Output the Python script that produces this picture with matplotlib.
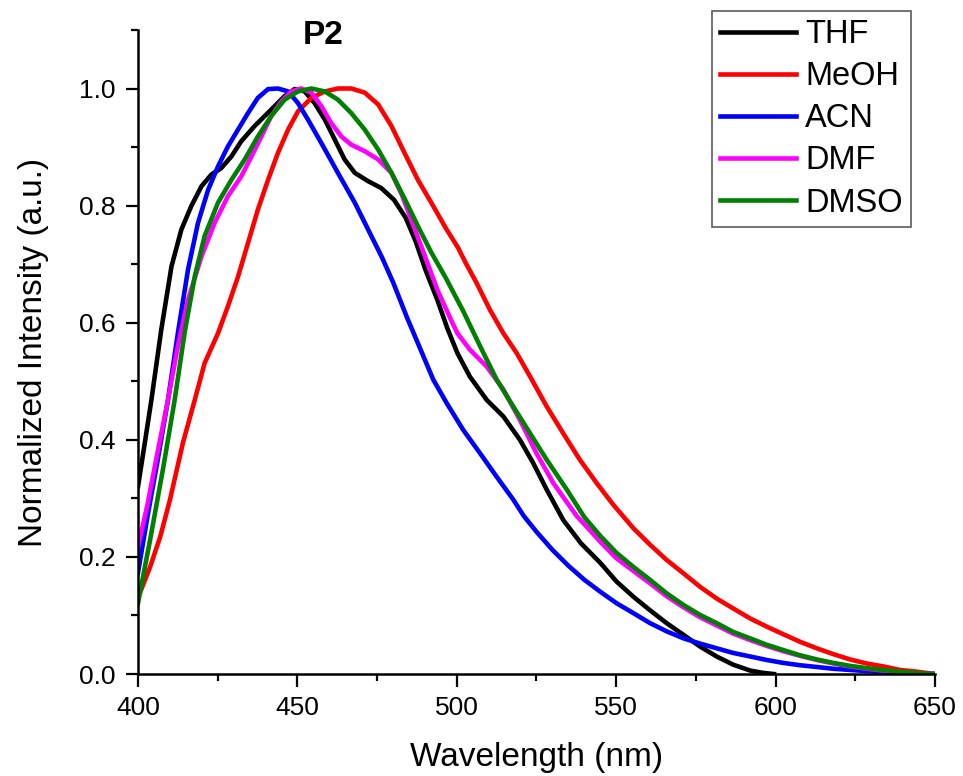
import numpy as np
import matplotlib.pyplot as plt

plt.rcParams['font.family'] = ['Liberation Sans', 'DejaVu Sans']

# emission spectra (wavelength nm, normalized intensity)
thf_x = [400, 402, 404.2, 407.3, 410.5, 413.6, 416.7, 419.9, 423, 426.1, 429.3, 432.4, 436.6,
         441.8, 446, 449.1, 452.3, 455.4, 458.6, 461.7, 464.8, 468, 472.1, 476.3, 480.3, 484,
         487.1, 490.2, 493.9, 497, 500.2, 504.1, 509.4, 514.6, 519.8, 524, 528.2, 533.4, 539,
         545, 550.1, 555.4, 560.6, 565.8, 571.1, 576.3, 581.5, 586.7, 592, 596, 599.5]
thf_y = [0.32, 0.39, 0.468, 0.588, 0.696, 0.759, 0.799, 0.833, 0.853, 0.864, 0.884, 0.91, 0.936,
         0.964, 0.987, 0.999, 0.995, 0.975, 0.947, 0.913, 0.879, 0.856, 0.842, 0.83, 0.81, 0.779,
         0.739, 0.69, 0.639, 0.591, 0.548, 0.508, 0.468, 0.44, 0.4, 0.36, 0.315, 0.263, 0.223,
         0.19, 0.158, 0.132, 0.109, 0.087, 0.067, 0.047, 0.03, 0.016, 0.006, 0.002, 0.0]

meoh_x = [400, 403.8, 407, 410, 414.1, 417.8, 420.9, 425.1, 428.2, 431.4, 434.5, 437.6, 440.8,
          443.9, 447.1, 450.2, 454.4, 458.6, 462.7, 466.9, 471.1, 475.3, 479.5, 483.6, 487.8,
          492, 496.5, 500.4, 503, 506.2, 510.4, 514.6, 518.8, 523, 528.2, 533.4, 538.6, 543.9,
          549.1, 555.4, 560.6, 565.8, 571.1, 576.3, 581.5, 586.7, 592, 597.2, 602.4, 607.7,
          612.9, 618.1, 623.3, 628.6, 633.8, 639, 644.3, 650]
meoh_y = [0.13, 0.183, 0.235, 0.297, 0.395, 0.468, 0.531, 0.582, 0.628, 0.679, 0.736, 0.793,
          0.844, 0.89, 0.93, 0.961, 0.984, 0.995, 1.0, 1.0, 0.993, 0.973, 0.936, 0.89, 0.844,
          0.805, 0.762, 0.728, 0.7, 0.668, 0.622, 0.582, 0.548, 0.508, 0.457, 0.411, 0.366,
          0.326, 0.289, 0.249, 0.221, 0.195, 0.172, 0.149, 0.129, 0.112, 0.095, 0.081, 0.068,
          0.055, 0.044, 0.034, 0.025, 0.018, 0.013, 0.007, 0.004, 0.0]

acn_x = [400, 403, 406, 409.4, 412.5, 415.7, 418.8, 422, 425.1, 428.2, 431.4, 434.5, 437.6,
         440.8, 443.9, 447.1, 450.2, 453.3, 457.5, 462.7, 468, 473.2, 476.5, 480.1, 484.3,
         488.5, 492.6, 496.8, 502, 507.3, 512.5, 517.7, 521, 525, 530, 535, 540, 544.9, 550.1,
         555.4, 560.6, 565.8, 571.1, 576.3, 581.5, 586.7, 592, 597.2, 602.4, 607.7, 613, 618.1,
         623.3, 628.6, 633.8, 639, 644, 650]
acn_y = [0.173, 0.27, 0.36, 0.468, 0.582, 0.691, 0.77, 0.827, 0.867, 0.901, 0.93, 0.958, 0.984,
         0.999, 1.0, 0.995, 0.975, 0.947, 0.907, 0.856, 0.805, 0.748, 0.712, 0.668, 0.61, 0.556,
         0.503, 0.463, 0.417, 0.377, 0.337, 0.298, 0.27, 0.243, 0.212, 0.185, 0.161, 0.141,
         0.121, 0.104, 0.087, 0.073, 0.061, 0.052, 0.044, 0.036, 0.03, 0.024, 0.019, 0.015,
         0.012, 0.009, 0.007, 0.005, 0.0035, 0.002, 0.001, 0.0]

dmf_x = [400, 403, 406, 409.4, 412.5, 415.7, 419.9, 424, 428.2, 432.4, 435.6, 438.7, 441.8,
         445, 448.1, 451.2, 454.4, 457.5, 460.6, 463.8, 466.9, 471.1, 475.3, 479.5, 482.8, 486,
         489.9, 494, 498, 500.2, 504.1, 509.4, 514.6, 519.8, 525, 530.3, 537.6, 541, 545, 550,
         555.4, 560.6, 565.8, 571.1, 576.3, 581.5, 586.7, 592, 597.2, 602.4, 607.7, 612.9,
         618.1, 623.3, 628.6, 633.8, 639, 644, 650]
dmf_y = [0.217, 0.29, 0.375, 0.468, 0.56, 0.639, 0.713, 0.77, 0.816, 0.85, 0.884, 0.918, 0.953,
         0.978, 0.995, 1.0, 0.993, 0.97, 0.941, 0.918, 0.904, 0.893, 0.879, 0.856, 0.818, 0.772,
         0.715, 0.655, 0.607, 0.582, 0.554, 0.525, 0.486, 0.434, 0.377, 0.326, 0.27, 0.25,
         0.226, 0.198, 0.176, 0.155, 0.133, 0.114, 0.097, 0.083, 0.069, 0.058, 0.048, 0.039,
         0.031, 0.024, 0.018, 0.013, 0.009, 0.006, 0.0035, 0.0015, 0.0]

dmso_x = [400, 404, 408, 411.5, 414.6, 417.8, 420.9, 425.1, 429.3, 433.5, 437.6, 441.8, 446,
          450.2, 454.4, 458.6, 462.7, 466.9, 471.1, 475.3, 479.5, 483.8, 487.8, 492, 496.5, 502,
          507.3, 512.5, 517.7, 523, 528.2, 534.5, 540, 545, 550.1, 555.4, 560.6, 565.8, 571.1,
          576.3, 581.5, 586.7, 592, 597.2, 602.4, 607.7, 612.9, 618.1, 623.3, 628.6, 633.8, 639,
          644, 650]
dmso_y = [0.121, 0.235, 0.355, 0.468, 0.582, 0.679, 0.748, 0.805, 0.844, 0.879, 0.918, 0.953,
          0.981, 0.995, 1.0, 0.995, 0.981, 0.958, 0.93, 0.896, 0.856, 0.81, 0.765, 0.72, 0.677,
          0.62, 0.56, 0.503, 0.457, 0.411, 0.366, 0.315, 0.268, 0.236, 0.207, 0.183, 0.161,
          0.138, 0.118, 0.101, 0.087, 0.072, 0.061, 0.05, 0.041, 0.032, 0.025, 0.019, 0.014,
          0.01, 0.007, 0.004, 0.002, 0.0]

series = [('THF', thf_x, thf_y, 'black'),
          ('MeOH', meoh_x, meoh_y, '#ff0000'),
          ('ACN', acn_x, acn_y, '#0000ff'),
          ('DMF', dmf_x, dmf_y, '#ff00ff'),
          ('DMSO', dmso_x, dmso_y, '#008000')]

fig = plt.figure(figsize=(9.63, 7.76), dpi=100)
ax = fig.add_axes([0.1433, 0.1314, 0.8276, 0.830])

for name, x, y, c in series:
    ax.plot(x, y, color=c, lw=3.3, label=name, solid_joinstyle='round')

ax.set_xlim(400, 650)
ax.set_ylim(0, 1.1)
ax.set_xticks([400, 450, 500, 550, 600, 650])
ax.set_xticks(np.arange(425, 650, 50), minor=True)
ax.set_yticks([0.0, 0.2, 0.4, 0.6, 0.8, 1.0])
ax.set_yticks([0.1, 0.3, 0.5, 0.7, 0.9, 1.1], minor=True)
ax.yaxis.set_major_formatter(plt.FormatStrFormatter('%.1f'))

for s in ['top', 'right']:
    ax.spines[s].set_visible(False)
for s in ['left', 'bottom']:
    ax.spines[s].set_linewidth(1.8)

ax.tick_params(which='major', direction='out', length=9, width=1.6, labelsize=19, pad=7)
ax.tick_params(which='minor', direction='out', length=5, width=1.6)

ax.set_xlabel('Wavelength (nm)', fontsize=24, labelpad=16)
ax.set_ylabel('Normalized Intensity (a.u.)', fontsize=24, labelpad=22)
ax.text(458, 1.09, 'P2', fontsize=24, fontweight='bold', ha='center', va='center')

leg = ax.legend(loc='upper right', bbox_to_anchor=(911 / 963, 1 - 11 / 776),
                bbox_transform=fig.transFigure, borderaxespad=0, fontsize=23.5,
                fancybox=False, frameon=True, handlelength=2.3, labelspacing=0.34,
                handletextpad=0.3, borderpad=0.25)
leg.get_frame().set_edgecolor('#333333')
leg.get_frame().set_linewidth(1.2)

fig.savefig('out.png', dpi=100, facecolor='white')
